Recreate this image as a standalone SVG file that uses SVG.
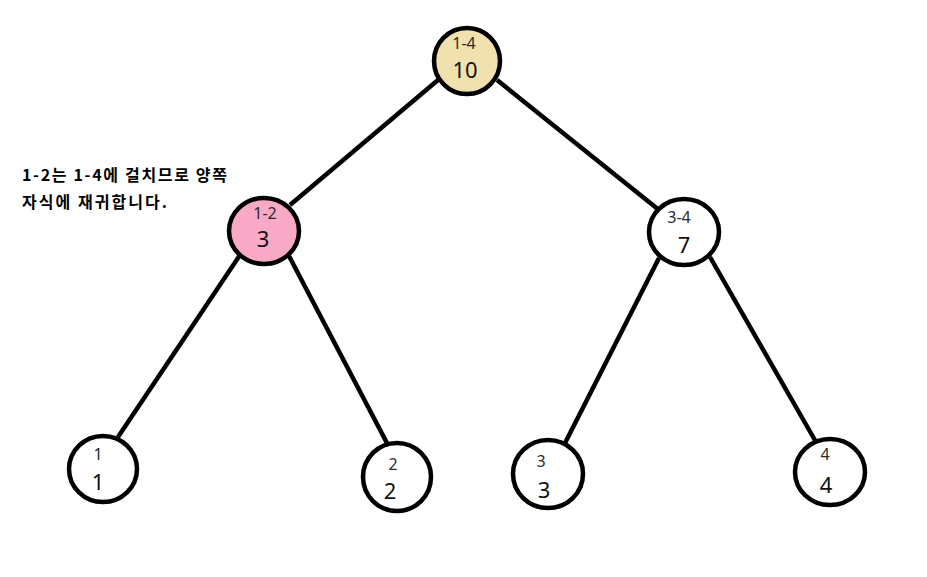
<svg xmlns="http://www.w3.org/2000/svg" width="927" height="577" viewBox="0 0 927 577">
<style>
.n{fill:#fff;stroke:#000;stroke-width:4.5}
.e{stroke:#000;stroke-width:4.5;fill:none}
.l{font-family:"Noto Sans","Noto Sans CJK KR",sans-serif;font-size:16px;fill:#2a2a2a;text-anchor:middle}
.v{font-family:"Noto Sans","Noto Sans CJK KR",sans-serif;font-size:22px;fill:#111;text-anchor:middle}
.a{font-family:"Noto Sans CJK KR",sans-serif;font-size:16px;font-weight:bold;fill:#000}
</style>
<rect width="927" height="577" fill="#fff"/>
<g id="edges">
<line class="e" x1="438" y1="80" x2="290" y2="205"/>
<line class="e" x1="497" y1="80" x2="659" y2="210"/>
<line class="e" x1="240" y1="255" x2="118" y2="437"/>
<line class="e" x1="289" y1="256" x2="388" y2="445"/>
<line class="e" x1="659" y1="258" x2="563" y2="447"/>
<line class="e" x1="710" y1="257" x2="816" y2="442"/>
</g>
<g id="n14"><ellipse class="n" cx="467" cy="61" rx="33" ry="33" style="fill:#F0E1AE"/><text class="l" x="464" y="49">1-4</text><text class="v" x="465" y="78">10</text></g>
<g id="n12"><ellipse class="n" cx="264" cy="231" rx="35" ry="33" style="fill:#F8A9C6"/><text class="l" x="265" y="219">1-2</text><text class="v" x="263" y="247">3</text></g>
<g id="n34"><ellipse class="n" cx="684" cy="232" rx="35" ry="33"/><text class="l" x="679" y="223">3-4</text><text class="v" x="684" y="253">7</text></g>
<g id="n1"><ellipse class="n" cx="103" cy="469" rx="34" ry="33"/><text class="l" x="98" y="460">1</text><text class="v" x="98" y="490">1</text></g>
<g id="n2"><ellipse class="n" cx="397" cy="477" rx="34" ry="34"/><text class="l" x="393" y="470">2</text><text class="v" x="390" y="499">2</text></g>
<g id="n3"><ellipse class="n" cx="548" cy="474" rx="35" ry="34"/><text class="l" x="541" y="467">3</text><text class="v" x="544" y="498">3</text></g>
<g id="n4"><ellipse class="n" cx="830" cy="472" rx="35" ry="33"/><text class="l" x="825" y="460">4</text><text class="v" x="826" y="493">4</text></g>
<g id="note"><text class="a" x="22" y="181" textLength="205" lengthAdjust="spacing">1-2는 1-4에 걸치므로 양쪽</text><text class="a" x="22" y="208" textLength="145" lengthAdjust="spacing">자식에 재귀합니다.</text></g>
</svg>
